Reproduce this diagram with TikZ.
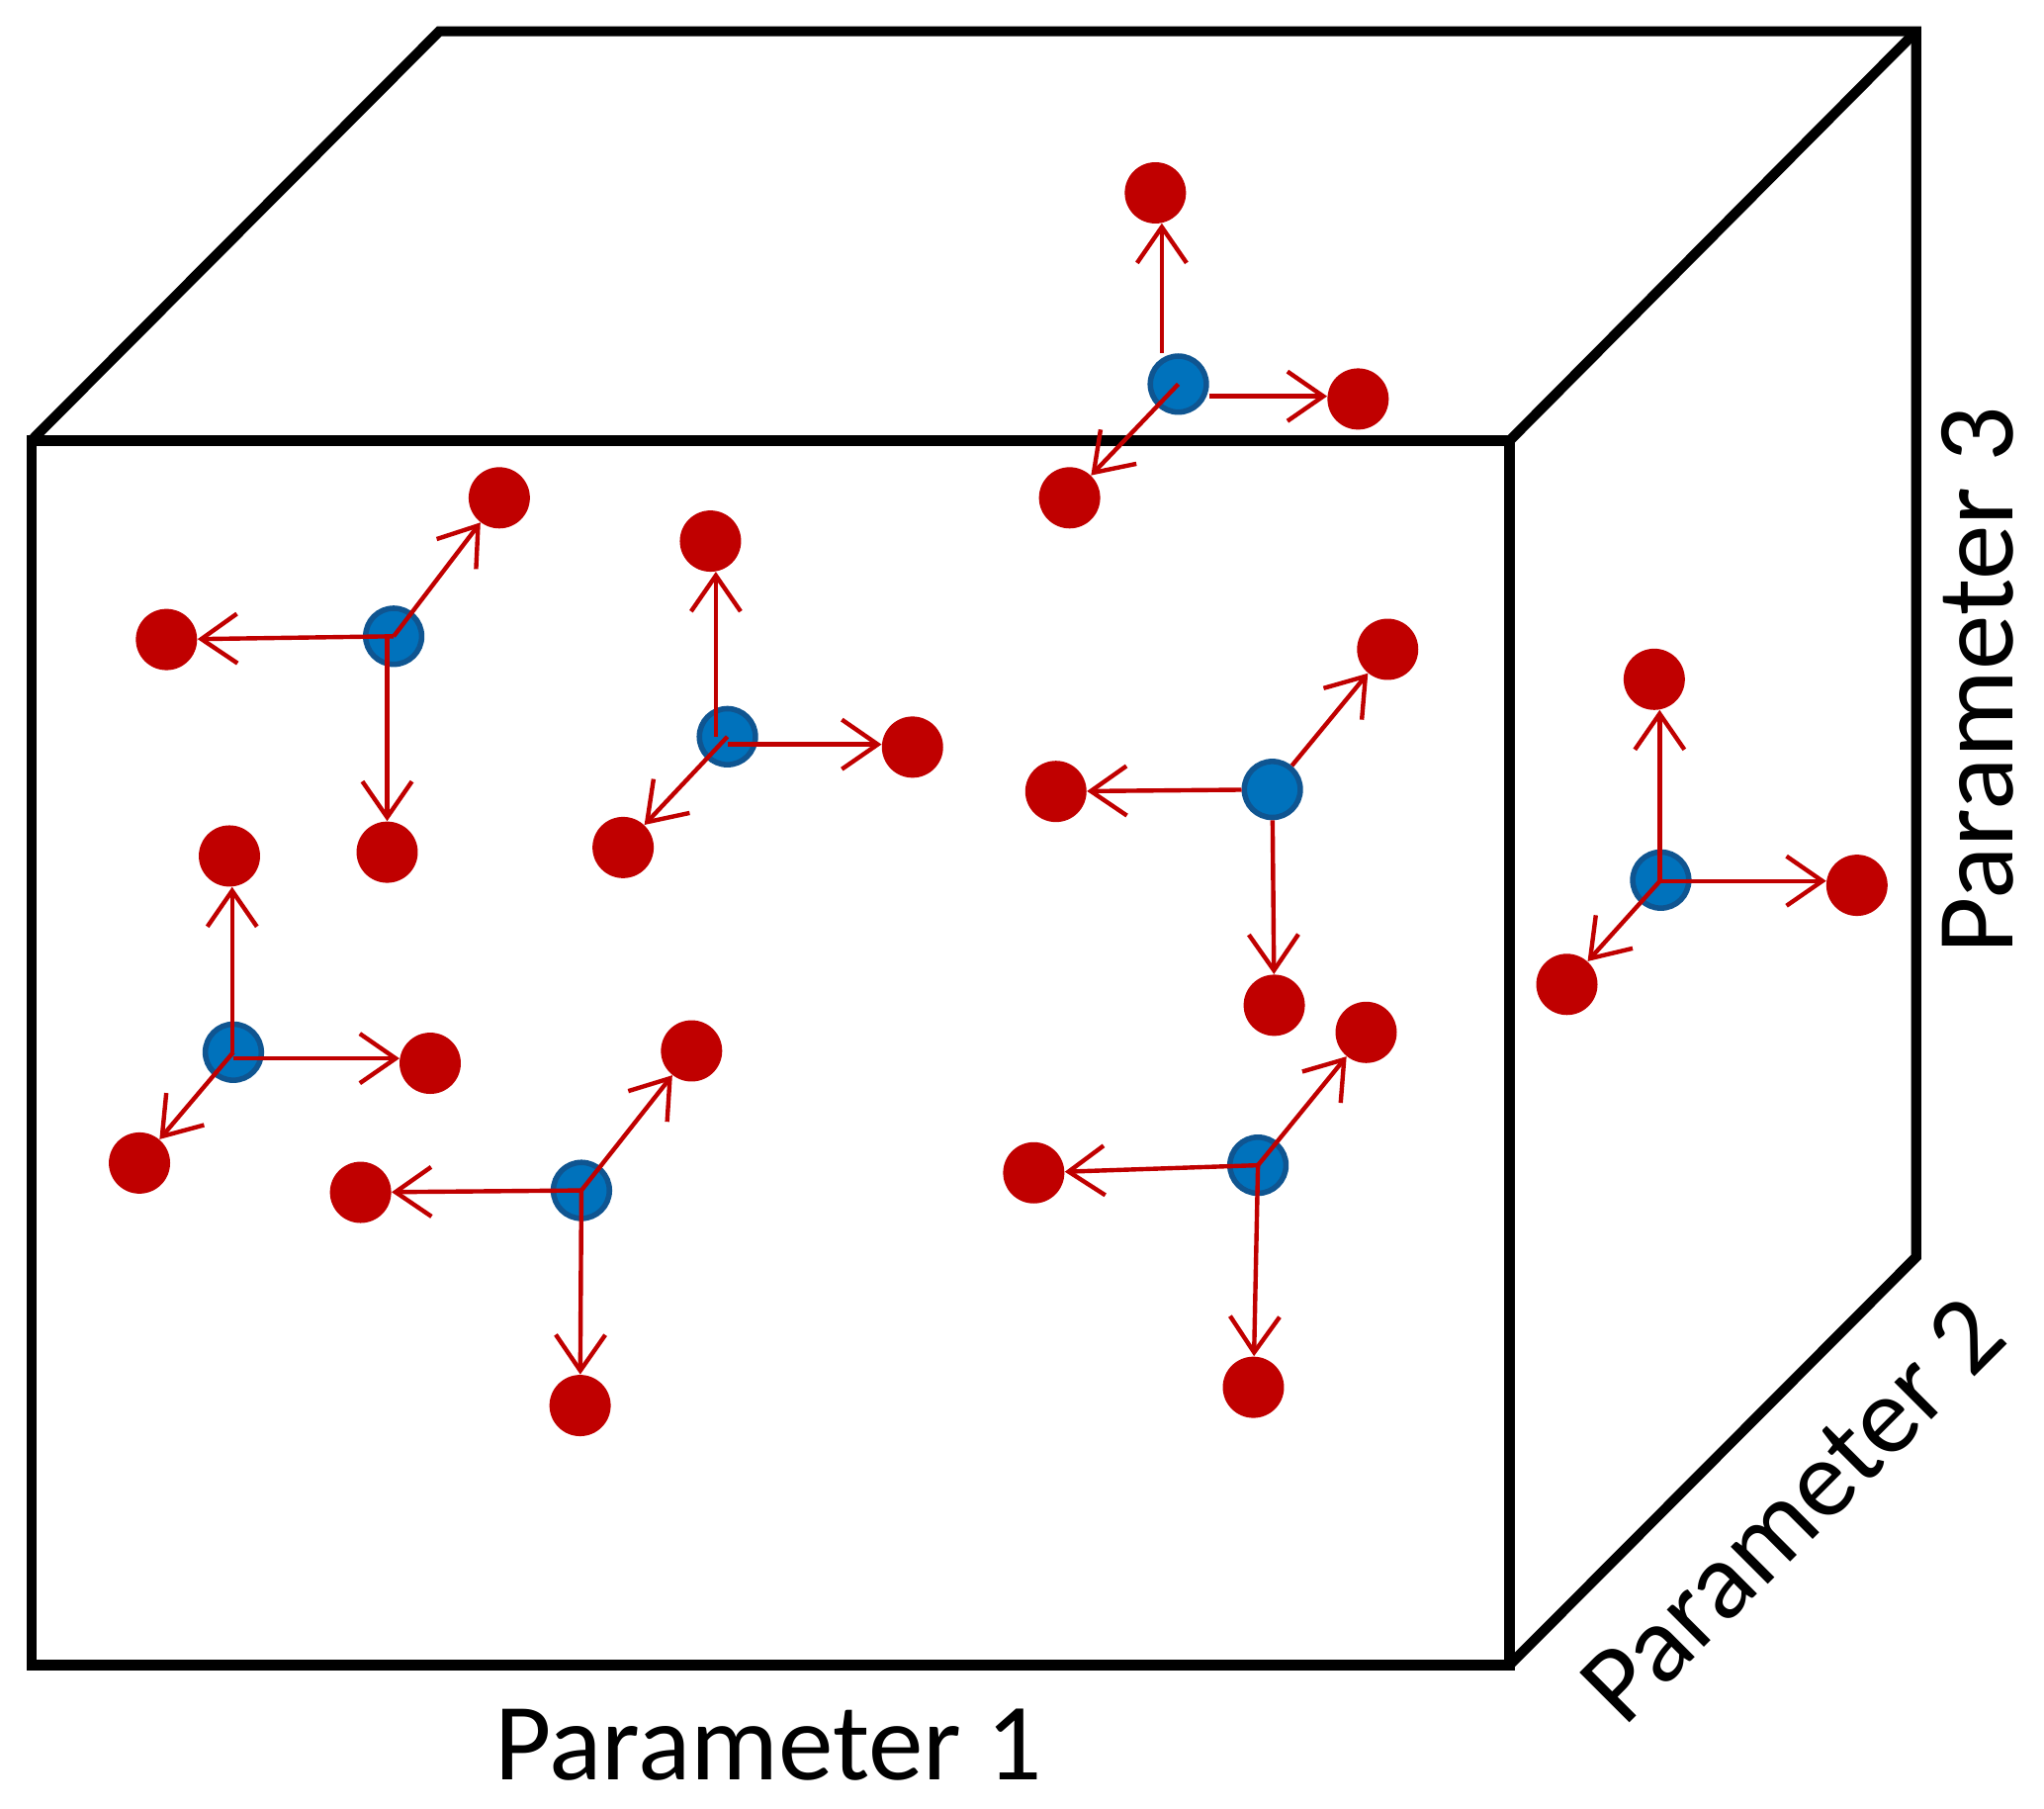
\documentclass[tikz,border=0pt]{standalone}
\usepackage{fontspec}
\setmainfont{Carlito}
\usetikzlibrary{arrows.meta}
\definecolor{ptred}{RGB}{192,0,0}
\definecolor{ptblue}{RGB}{0,114,188}
\definecolor{ptbluedark}{RGB}{15,85,145}
\begin{document}
\begin{tikzpicture}[x=0.02cm,y=-0.02cm,
  frame/.style={line width=4.4pt, draw=black, line join=miter},
  redpt/.style={circle, fill=ptred, inner sep=0pt, minimum size=0.94cm},
  bluept/.style={circle, fill=ptblue, draw=ptbluedark, line width=2.4pt, inner sep=0pt, minimum size=0.86cm},
  arr/.style={draw=ptred, line width=1.9pt, -{Straight Barb[length=0.55cm,width=0.76cm]}},
  lab/.style={font=\fontsize{48}{57}\selectfont, inner sep=0pt, anchor=base}
]
\useasboundingbox (0,0) rectangle (1568,1387);
% cube
\coordinate (A) at (24,338);
\coordinate (B) at (1158,338);
\coordinate (C) at (1158,1277);
\coordinate (D) at (24,1277);
\coordinate (E) at (337,24);
\coordinate (F) at (1470,24);
\coordinate (G) at (1470,964);
\draw[frame] (A) -- (B) -- (C) -- (D) -- cycle;
\draw[frame] (A) -- (E) -- (F) -- (G) -- (C);
\draw[frame] (B) -- (F);
% labels
\node[lab] (p1) at (589.5,1365) {Parameter 1};
\node[lab, rotate=45] (p2) at (1394,1177) {Parameter 2};
\node[lab, rotate=90] (p3) at (1544,522) {Parameter 3};
% cluster 1 (top face)
\node[redpt] (r1u) at (886.3,147.9) {};
\node[redpt] (r1r) at (1041.8,306) {};
\node[redpt] (r1d) at (820.5,381.8) {};
\node[bluept] (b1) at (903.9,294.6) {};
% cluster 2
\node[redpt] (r2l) at (127.7,490.5) {};
\node[redpt] (r2u) at (383,381.8) {};
\node[redpt] (r2d) at (297,653.6) {};
\node[bluept] (b2) at (302,488) {};
% cluster 3
\node[redpt] (r3u) at (545,415) {};
\node[redpt] (r3r) at (700,573) {};
\node[redpt] (r3d) at (478,650) {};
\node[bluept] (b3) at (558,565) {};
% cluster 4
\node[redpt] (r4u) at (176,656.5) {};
\node[redpt] (r4r) at (330,815.5) {};
\node[redpt] (r4d) at (107,892) {};
\node[bluept] (b4) at (179,807) {};
% cluster 5
\node[redpt] (r5l) at (276.6,914.5) {};
\node[redpt] (r5u) at (530.5,806) {};
\node[redpt] (r5d) at (445,1078) {};
\node[bluept] (b5) at (446,913) {};
% cluster 6
\node[redpt] (r6l) at (810,607) {};
\node[redpt] (r6u) at (1064.5,498) {};
\node[redpt] (r6d) at (977.5,771) {};
\node[bluept] (b6) at (976,605.5) {};
% cluster 7
\node[redpt] (r7l) at (793,899.5) {};
\node[redpt] (r7u) at (1048,791.8) {};
\node[redpt] (r7d) at (961.5,1064) {};
\node[bluept] (b7) at (965,893.7) {};
% cluster 8 (right face)
\node[redpt] (r8u) at (1269,521) {};
\node[redpt] (r8r) at (1424.5,679) {};
\node[redpt] (r8d) at (1202,755) {};
\node[bluept] (b8) at (1274,675) {};
% arrows
\draw[arr] (r1u.-78 |- b1.north) -- (r1u.-78);
\draw[arr] (r1r.175 -| b1.east) -- (r1r.175);
\draw[arr] (b1.center) -- (r1d);
\draw[arr] (b2.center) -- (r2l);
\draw[arr] (b2.center) -- (r2u);
\draw[arr] (r2d.north |- b2.center) -- (r2d.north);
\draw[arr] (r3u.-80 |- b3.center) -- (r3u.-80);
\draw[arr] (r3r.175 -| b3.center) -- (r3r.175);
\draw[arr] (b3.center) -- (r3d);
\draw[arr] (r4u.-85 |- b4.center) -- (r4u.-85);
\draw[arr] (r4r.171 -| b4.center) -- (r4r.171);
\draw[arr] (b4.center) -- (r4d);
\draw[arr] (b5.center) -- (r5l);
\draw[arr] (b5.center) -- (r5u);
\draw[arr] (b5.center) -- (r5d);
\draw[arr] (b6) -- (r6l);
\draw[arr] (b6) -- (r6u);
\draw[arr] (b6) -- (r6d);
\draw[arr] (b7.center) -- (r7l);
\draw[arr] (b7.center) -- (r7u);
\draw[arr] (b7.center) -- (r7d);
\draw[arr] (r8u.-80 |- b8.center) -- (r8u.-80);
\draw[arr] (r8r.172 -| b8.center) -- (r8r.172);
\draw[arr] (b8.center) -- (r8d);
\end{tikzpicture}
\end{document}
